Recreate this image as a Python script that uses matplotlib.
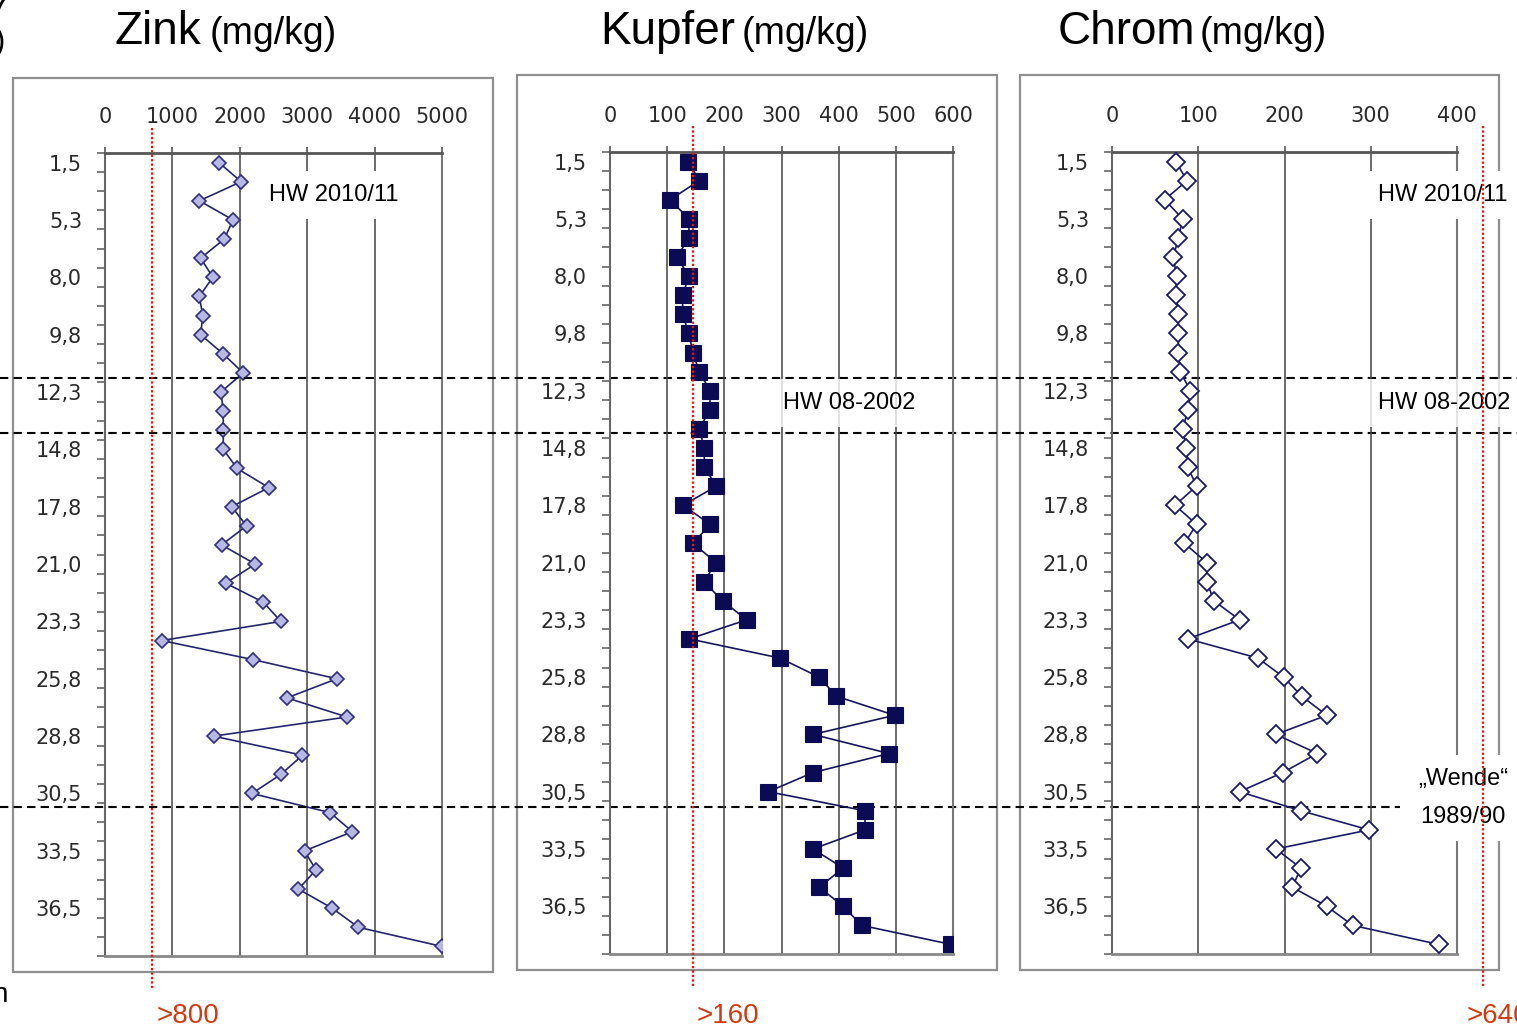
import numpy as np
import matplotlib.pyplot as plt
from matplotlib.patches import Rectangle

plt.rcParams['font.family'] = ['Liberation Sans', 'DejaVu Sans']

W, H = 1517, 1028

# depth labels (cm), every third sample is labelled
depth_labels = ['1,5', '5,3', '8,0', '9,8', '12,3', '14,8', '17,8',
                '21,0', '23,3', '25,8', '28,8', '30,5', '33,5', '36,5']

zink = [1690, 2020, 1400, 1900, 1770, 1420, 1600, 1400, 1450, 1420,
        1750, 2050, 1720, 1755, 1755, 1755, 1960, 2430, 1880, 2100,
        1730, 2230, 1790, 2350, 2610, 840, 2200, 3440, 2700, 3590,
        1610, 2930, 2610, 2180, 3340, 3670, 2960, 3130, 2870, 3370,
        3760, 5000]

kupfer = [137, 156, 105, 138, 138, 117, 138, 127, 127, 138,
          145, 156, 175, 175, 156, 165, 165, 186, 128, 175,
          145, 186, 164, 197, 239, 139, 297, 366, 396, 498,
          355, 488, 355, 277, 446, 446, 355, 408, 366, 408,
          440, 597]

chrom = [74, 87, 61, 82, 77, 71, 75, 74, 77, 77,
         77, 79, 91, 88, 82, 86, 88, 98, 73, 98,
         84, 110, 110, 118, 148, 88, 169, 199, 220, 249,
         190, 238, 198, 148, 219, 298, 190, 219, 209, 249,
         279, 379]

# layer boundaries (sample index)
hw2002_top = 11.25
hw2002_bottom = 14.13
wende = 33.7

# threshold lines (position as drawn) and labels
zink_limit, zink_limit_lbl = 700, '>800'
kupfer_limit, kupfer_limit_lbl = 145, '>160'
chrom_limit, chrom_limit_lbl = 430, '>640'

fig = plt.figure(figsize=(W / 100, H / 100), dpi=100)


def fx(x):
    return x / W


def fy(y):
    return 1 - y / H


def panel(box, values, xmax, xstep, style):
    l, t, r, b = box
    ax = fig.add_axes([fx(l), fy(b), (r - l) / W, (b - t) / H])
    ax.set_facecolor('none')
    idx = np.arange(len(values))
    ax.plot(values, idx, zorder=3, **style)
    ax.set_xlim(0, xmax)
    ax.set_ylim(len(values) - 0.5, -0.5)
    ax.xaxis.set_ticks_position('top')
    ax.set_xticks(np.arange(0, xmax + 1, xstep))
    ax.set_yticks(np.arange(0, len(values), 3))
    ax.set_yticklabels(depth_labels)
    ax.set_yticks(np.arange(-0.5, len(values), 1), minor=True)
    ax.tick_params(axis='x', which='major', direction='out', length=4.5,
                   width=1.2, color='#555555', pad=14, labelsize=15,
                   labelcolor='#2a2a2a')
    ax.tick_params(axis='y', which='major', length=0, pad=16.5,
                   labelsize=15, labelcolor='#2a2a2a')
    ax.tick_params(axis='y', which='minor', length=5.8, width=1.2,
                   color='#666666')
    for lbl in ax.get_xticklabels() + ax.get_yticklabels():
        lbl.set_family('DejaVu Sans')
    ax.grid(axis='x', color='#444444', lw=1.1)
    ax.set_axisbelow(True)
    ax.spines['top'].set_color('#555555')
    ax.spines['top'].set_linewidth(2)
    ax.spines['left'].set_color('#666666')
    ax.spines['left'].set_linewidth(1.5)
    ax.spines['right'].set_color('#777777')
    ax.spines['right'].set_linewidth(1.5)
    ax.spines['bottom'].set_color('#888888')
    ax.spines['bottom'].set_linewidth(2)
    return ax


def label_box(ax, x, y, s, alpha=1.0, **kw):
    ax.text(fx(x), fy(y), s, transform=fig.transFigure, fontsize=17,
            ha='center', va='center', zorder=4, clip_on=False,
            bbox=dict(boxstyle='square,pad=0.55', fc='white', ec='none',
                      alpha=alpha), **kw)


# outer chart frames
for l, t, r, b in [(13, 78, 493, 972), (517, 75, 997, 970), (1020, 75, 1499, 970)]:
    fig.add_artist(Rectangle((fx(l), fy(b)), (r - l) / W, (b - t) / H,
                             transform=fig.transFigure, fill=False,
                             ec='#8f8f8f', lw=1.6, zorder=-2))

ax1 = panel((105, 153, 442, 956), zink, 5000, 1000,
            dict(color='#25256e', lw=1.2, marker='D', ms=7.5, mfc='#b8b8e4',
                 mec='#30307a', mew=1.2))
ax2 = panel((610, 152, 953, 954), kupfer, 600, 100,
            dict(color='#15155e', lw=1.2, marker='s', ms=11.5, mfc='#0b0b55',
                 mec='#0b0b55', mew=0.8))
ax3 = panel((1112, 152, 1457, 954), chrom, 400, 100,
            dict(color='#1a1a66', lw=1.2, marker='D', ms=9.5, mfc='white',
                 mec='#1a1a66', mew=1.3))

# dashed layer boundaries across the whole figure
w1 = 337
for yv, xend in [(hw2002_top, 1517), (hw2002_bottom, 1517), (wende, 1400)]:
    ax1.axhline(yv, xmin=-105 / w1, xmax=(xend - 105) / w1, color='black',
                lw=1.5, ls=(0, (4, 2.5)), clip_on=False, zorder=5)

# text labels with white boxes
label_box(ax1, 334, 195, 'HW 2010/11')
label_box(ax2, 849, 403, 'HW 08-2002', alpha=0.8)
label_box(ax3, 1443, 195, 'HW 2010/11')
label_box(ax3, 1444, 403, 'HW 08-2002', alpha=0.8)
label_box(ax3, 1463, 798, '\u201eWende\u201c\n1989/90', linespacing=1.95,
          multialignment='center')

# threshold lines
for ax, lim in [(ax1, zink_limit), (ax2, kupfer_limit), (ax3, chrom_limit)]:
    ax.axvline(lim, ymin=-0.04, ymax=1.032, color='#ee1111', lw=1.6,
               ls=(0, (1, 1)), clip_on=False, zorder=6)

for x, s in [(157, zink_limit_lbl), (697, kupfer_limit_lbl), (1467, chrom_limit_lbl)]:
    fig.text(fx(x), fy(1023), s, color='#d03a10', fontsize=20, va='baseline')

# titles
for x1, name, x2 in [(115, 'Zink', 210), (600, 'Kupfer', 742), (1058, 'Chrom', 1200)]:
    fig.text(fx(x1), fy(44), name, fontsize=33, va='baseline')
    fig.text(fx(x2), fy(44), '(mg/kg)', fontsize=27, va='baseline')

# cut-off bits at the left edge
fig.text(fx(-13), fy(22), '7', fontsize=28, va='baseline')
fig.text(fx(-5), fy(50), ')', fontsize=22, va='baseline')
fig.text(fx(-8), fy(1002), 'n', fontsize=20, va='baseline')

plt.savefig('out.png', dpi=100)
